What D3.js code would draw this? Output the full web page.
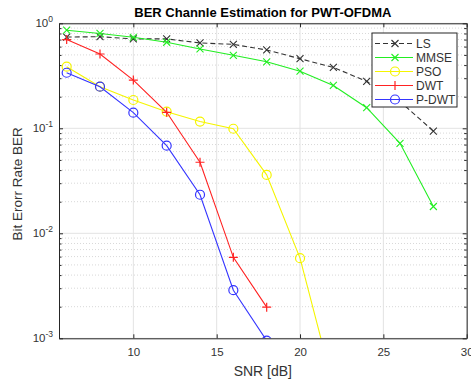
<!DOCTYPE html>
<html>
<head>
<meta charset="utf-8">
<script src="https://cdn.jsdelivr.net/npm/d3@7"></script>
<style>
body { margin:0; background:#fff; }
text { font-family: "Liberation Sans", Arial, sans-serif; }
</style>
</head>
<body>
<svg id="chart"></svg>
<script>
// data
var snr = [6, 8, 10, 12, 14, 16, 18, 20, 22, 24, 26, 28];
var ls   = [0.74, 0.745, 0.71, 0.71, 0.65, 0.63, 0.557, 0.46, 0.38, 0.28, 0.18, 0.094];
var mmse = [0.86, 0.80, 0.736, 0.66, 0.57, 0.496, 0.43, 0.35, 0.256, 0.157, 0.072, 0.018];
var pso  = [0.386, 0.249, 0.186, 0.144, 0.116, 0.099, 0.036, 0.0058, 0.00035];
var dwt  = [0.70, 0.51, 0.288, 0.142, 0.0475, 0.0059, 0.00198];
var pdwt = [0.338, 0.249, 0.141, 0.0683, 0.0233, 0.00287, 0.00095];
var xTicks = [10, 15, 20, 25, 30];
var yTicks = [1e-3, 1e-2, 1e-1, 1];

var series = [
  {name:"LS", vals:ls, color:"#333", dash:"5,3", marker:"x"},
  {name:"MMSE", vals:mmse, color:"#22ee22", dash:null, marker:"x"},
  {name:"PSO", vals:pso, color:"#f5f500", dash:null, marker:"o"},
  {name:"DWT", vals:dwt, color:"#ff2222", dash:null, marker:"+"},
  {name:"P-DWT", vals:pdwt, color:"#3535ff", dash:null, marker:"o"}
];

var W = 471, H = 382;
var m = {left:59, top:23.3, right:471-466.7, bottom:382-338.3};
var txt = "#333";
var svg = d3.select("#chart").attr("width", W).attr("height", H);

var x = d3.scaleLinear().domain([5.54, 30]).range([m.left, W - m.right]);
var y = d3.scaleLog().domain([1e-3, 1]).range([H - m.bottom, m.top]);

var g = svg.append("g");

// minor y grid
var minors = [];
[1e-3, 1e-2, 1e-1].forEach(function(d) {
  for (var k = 2; k <= 9; k++) minors.push(d * k);
});
g.selectAll(".ymin").data(minors).enter().append("line")
  .attr("x1", x.range()[0]).attr("x2", x.range()[1])
  .attr("y1", function(d) { return y(d); }).attr("y2", function(d) { return y(d); })
  .attr("stroke", "#d8d8d8").attr("stroke-dasharray", "1,2").attr("stroke-width", 1);

// major grid
g.selectAll(".ymaj").data(yTicks).enter().append("line")
  .attr("x1", x.range()[0]).attr("x2", x.range()[1])
  .attr("y1", function(d) { return y(d); }).attr("y2", function(d) { return y(d); })
  .attr("stroke", "#e3e3e3");
g.selectAll(".xmaj").data(xTicks).enter().append("line")
  .attr("y1", y.range()[0]).attr("y2", y.range()[1])
  .attr("x1", function(d) { return x(d); }).attr("x2", function(d) { return x(d); })
  .attr("stroke", "#e3e3e3");

svg.append("clipPath").attr("id", "clip").append("rect")
  .attr("x", x.range()[0]).attr("y", y.range()[1])
  .attr("width", x.range()[1] - x.range()[0]).attr("height", y.range()[0] - y.range()[1]);

var line = d3.line().x(function(d) { return x(d[0]); }).y(function(d) { return y(d[1]); });

function drawMarker(sel, type, color) {
  if (type == "o") {
    sel.append("circle").attr("r", 4.5).attr("fill", "none").attr("stroke", color).attr("stroke-width", 1.2);
  } else if (type == "x") {
    sel.append("path").attr("d", "M-3.5,-3.5L3.5,3.5M-3.5,3.5L3.5,-3.5").attr("stroke", color).attr("stroke-width", 1.1);
  } else {
    sel.append("path").attr("d", "M-4.5,0L4.5,0M0,-4.5L0,4.5").attr("stroke", color).attr("stroke-width", 1.2);
  }
}

var plot = g.append("g").attr("clip-path", "url(#clip)");
series.forEach(function(s) {
  var pts = s.vals.map(function(v, i) { return [snr[i], v]; });
  plot.append("path").datum(pts).attr("d", line)
    .attr("fill", "none").attr("stroke", s.color).attr("stroke-width", 1.1)
    .attr("stroke-dasharray", s.dash);
  plot.selectAll(null).data(pts).enter().append("g")
    .attr("transform", function(d) { return "translate(" + x(d[0]) + "," + y(d[1]) + ")"; })
    .each(function() { drawMarker(d3.select(this), s.marker, s.color); });
});

// axes
var ax = g.append("g").attr("transform", "translate(0," + y.range()[0] + ")")
  .call(d3.axisBottom(x).tickValues(xTicks).tickSizeInner(-4).tickSizeOuter(0).tickPadding(10));
var axTop = g.append("g").attr("transform", "translate(0," + y.range()[1] + ")")
  .call(d3.axisTop(x).tickValues(xTicks).tickSizeInner(-4).tickSizeOuter(0).tickFormat(""));
var ay = g.append("g").attr("transform", "translate(" + x.range()[0] + ",0)")
  .call(d3.axisLeft(y).tickValues(yTicks.concat(minors)).tickSizeInner(0).tickSizeOuter(0).tickFormat(""));
var ayR = g.append("g").attr("transform", "translate(" + x.range()[1] + ",0)")
  .call(d3.axisRight(y).tickValues(yTicks.concat(minors)).tickSizeInner(0).tickSizeOuter(0).tickFormat(""));
[ay, ayR].forEach(function(a, j) {
  a.selectAll(".tick line").attr("x2", function(d) {
    var big = yTicks.indexOf(d) >= 0 ? 4 : 2.5;
    return j == 0 ? big : -big;
  });
});
[ax, axTop, ay, ayR].forEach(function(a) {
  a.select(".domain").attr("stroke", "#262626");
  a.selectAll(".tick line").attr("stroke", "#262626");
  a.selectAll("text").attr("fill", txt).attr("font-size", 11.5)
    .attr("font-family", "Liberation Sans, Arial, sans-serif");
});

// y tick labels with exponents
var yl = g.selectAll(".ylab").data(yTicks).enter().append("text")
  .attr("x", x.range()[0] - 6).attr("y", function(d) { return y(d) + 4; })
  .attr("text-anchor", "end").attr("fill", txt).attr("font-size", 11.5);
yl.append("tspan").text("10");
yl.append("tspan").attr("dy", -5).attr("font-size", 8.5)
  .text(function(d) { return Math.round(Math.log10(d)); });

// title and labels
svg.append("text").attr("x", (x.range()[0] + x.range()[1]) / 2).attr("y", 17)
  .attr("text-anchor", "middle").attr("font-weight", "bold").attr("font-size", 13)
  .text("BER Channle Estimation for PWT-OFDMA");
svg.append("text").attr("x", (x.range()[0] + x.range()[1]) / 2).attr("y", 376)
  .attr("text-anchor", "middle").attr("font-size", 14).attr("fill", txt)
  .text("SNR [dB]");
svg.append("text").attr("transform", "translate(22," + ((y.range()[0] + y.range()[1]) / 2 + 3) + ") rotate(-90)")
  .attr("text-anchor", "middle").attr("font-size", 13.5).attr("fill", txt)
  .text("Bit Erorr Rate BER");

// legend
var lg = svg.append("g").attr("transform", "translate(372,33)");
lg.append("rect").attr("width", 85).attr("height", 74)
  .attr("fill", "#fff").attr("stroke", "#262626").attr("stroke-width", 1);
series.forEach(function(s, i) {
  var row = lg.append("g").attr("transform", "translate(0," + (10.5 + i * 14) + ")");
  row.append("line").attr("x1", 3).attr("x2", 41).attr("stroke", s.color)
    .attr("stroke-width", 1.1).attr("stroke-dasharray", s.dash);
  drawMarker(row.append("g").attr("transform", "translate(23,0)"), s.marker, s.color);
  row.append("text").attr("x", 44).attr("y", 4.5).attr("font-size", 12).attr("fill", txt).text(s.name);
});
</script>
</body>
</html>
